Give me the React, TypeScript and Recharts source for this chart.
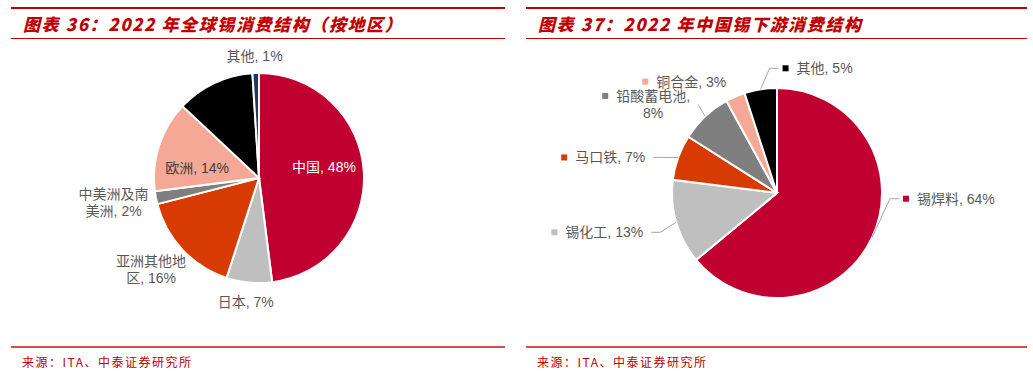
import React from 'react';
import { PieChart, Pie, Cell } from 'recharts';

// 图表36：全球锡消费（按地区）
const regionNames = ['中国', '日本', '亚洲其他地区', '中美洲及南美洲', '欧洲', '北美', '其他'];
const regionShares = [48, 7, 16, 2, 14, 12, 1];

// 图表37：中国锡下游消费
const useNames = ['锡焊料', '锡化工', '马口铁', '铅酸蓄电池', '铜合金', '其他'];
const useShares = [64, 13, 7, 8, 3, 5];

const titleLeft = '图表 36：2022 年全球锡消费结构（按地区）';
const titleRight = '图表 37：2022 年中国锡下游消费结构';
const sourceText = '来源：ITA、中泰证券研究所';

const regionColors = ['#C00030', '#BFBFBF', '#D83B01', '#7F7F7F', '#F5A895', '#000000', '#203864'];
const useColors = ['#C00030', '#BFBFBF', '#D83B01', '#7F7F7F', '#F5A895', '#000000'];

// 左图标签：in = 扇区内，out = 扇区外，none = 不显示；以及竖直微调
const regionLabelMode = ['in-light', 'out', 'out', 'out', 'in-dark', 'none', 'out'];
const regionLabelShiftY = [-7, 3, 3, 0, 10, 0, 0];
// 右图标签相对扇区外缘的偏移 [dx, dy, 是否画引线]
const useLabelNudge: [number, number, boolean][] = [
  [27, -39, true],
  [-25, 10, true],
  [-25, 0, true],
  [-7, -12, true],
  [-1, -15, false],
  [18, -21, true],
];

const RAD = Math.PI / 180;
const FONT = "'Liberation Sans', Arial, 'Noto Sans CJK SC', sans-serif";
const CJK = "'Noto Sans CJK SC', sans-serif";
const FS = 14;
const LH = 17;
const RED = '#C00000';
const GREY_TEXT = '#595959';
const NO_MARGIN = { top: 0, right: 0, bottom: 0, left: 0 };

function textWidth(s: string) {
  let w = 0;
  for (const ch of s) {
    if (/[\u3000-\u9fff\uff00-\uffef]/.test(ch)) w += 1;
    else if (ch === '%') w += 0.889;
    else if (/[0-9]/.test(ch)) w += 0.556;
    else if (ch === ',' || ch === ' ') w += 0.278;
    else w += 0.6;
  }
  return w * FS;
}

function wrapLabel(name: string, value: number): string[] {
  const pct = `${value}%`;
  if (name.length < 5) return [`${name}, ${pct}`];
  if (name.length === 5) return [`${name},`, pct];
  return [name.slice(0, 5), `${name.slice(5)}, ${pct}`];
}

function Lines({ lines, x, cy, fill }: { lines: string[]; x: number; cy: number; fill: string }) {
  const top = cy - ((lines.length - 1) * LH) / 2;
  return (
    <text textAnchor="middle" fill={fill} fontSize={FS} fontFamily={FONT}>
      {lines.map((l, i) => (
        <tspan key={i} x={x} y={top + i * LH + FS * 0.35}>
          {l}
        </tspan>
      ))}
    </text>
  );
}

const renderRegionLabel = (props: any) => {
  const { cx, cy, midAngle, outerRadius, index } = props;
  const mode = regionLabelMode[index];
  if (mode === 'none') return null;
  const dx = Math.cos(-midAngle * RAD);
  const dy = Math.sin(-midAngle * RAD);
  const lines = wrapLabel(regionNames[index], regionShares[index]);
  let x: number;
  let y: number;
  if (mode.startsWith('in')) {
    x = cx + dx * outerRadius * 0.62;
    y = cy + dy * outerRadius * 0.62;
  } else {
    const w = Math.max(...lines.map(textWidth));
    const h = lines.length * LH;
    const r = outerRadius + 8;
    x = cx + dx * r + (dx * w) / 2;
    y = cy + dy * r + (dy * h) / 2;
  }
  y += regionLabelShiftY[index];
  const fill = mode === 'in-light' ? '#FFFFFF' : mode === 'in-dark' ? '#404040' : GREY_TEXT;
  return <Lines key={`rl-${index}`} lines={lines} x={x} cy={y} fill={fill} />;
};

const renderUseLabel = (props: any) => {
  const { cx, cy, midAngle, outerRadius, index } = props;
  const dx = Math.cos(-midAngle * RAD);
  const dy = Math.sin(-midAngle * RAD);
  const ex = cx + dx * outerRadius;
  const ey = cy + dy * outerRadius;
  const [nx, ny, leader] = useLabelNudge[index];
  const lx = ex + nx;
  const ly = ey + ny;
  const side = lx >= cx ? 1 : -1;
  const lines = wrapLabel(useNames[index], useShares[index]);
  const tw = Math.max(...lines.map(textWidth));
  let squareX: number;
  let textCenter: number;
  if (side > 0) {
    squareX = lx + 4;
    textCenter = squareX + 6 + 8 + tw / 2;
  } else {
    const right = lx - 8;
    textCenter = right - tw / 2;
    squareX = right - tw - 8 - 6;
  }
  const firstLineY = ly - ((lines.length - 1) * LH) / 2;
  const pts: string[] = [`${ex},${ey}`];
  if (Math.abs(lx - ex) > 9) pts.push(`${lx - side * 9},${ly}`);
  pts.push(`${lx},${ly}`);
  return (
    <g key={`ul-${index}`}>
      {leader && <polyline points={pts.join(' ')} fill="none" stroke="#A6A6A6" strokeWidth={1} />}
      <rect x={squareX} y={firstLineY - 3} width={6} height={6} fill={useColors[index]} />
      <Lines lines={lines} x={textCenter} cy={ly} fill={GREY_TEXT} />
    </g>
  );
};

const regionData = regionNames.map((name, i) => ({ name, value: regionShares[i] }));
const useData = useNames.map((name, i) => ({ name, value: useShares[i] }));

function Frame({ left, width, title }: { left: number; width: number; title: string }) {
  return (
    <>
      <div style={{ position: 'absolute', left, top: 7, width, height: 2, background: RED }} />
      <div
        style={{
          position: 'absolute',
          left: left + 12,
          top: 14,
          fontFamily: CJK,
          fontSize: 17,
          lineHeight: '20px',
          fontWeight: 900,
          fontStyle: 'italic',
          letterSpacing: 1.6,
          color: RED,
          whiteSpace: 'nowrap',
        }}
      >
        {title}
      </div>
      <div style={{ position: 'absolute', left, top: 38, width, height: 1, background: RED }} />
      <div style={{ position: 'absolute', left, top: 346, width, height: 2, background: '#D05050' }} />
      <div
        style={{
          position: 'absolute',
          left: left + 11,
          top: 354,
          fontFamily: CJK,
          fontSize: 12,
          lineHeight: '16px',
          letterSpacing: 1.5,
          color: RED,
          whiteSpace: 'nowrap',
        }}
      >
        {sourceText}
      </div>
    </>
  );
}

export default function App() {
  return (
    <div style={{ position: 'absolute', left: 0, top: 0, width: 1033, height: 371, background: '#fff', overflow: 'hidden' }}>
      <Frame left={11} width={494} title={titleLeft} />
      <Frame left={526} width={501} title={titleRight} />
      <div style={{ position: 'absolute', left: 0, top: 0 }}>
        <PieChart width={516} height={371} margin={NO_MARGIN}>
          <Pie
            data={regionData}
            dataKey="value"
            nameKey="name"
            cx={259}
            cy={178}
            outerRadius={105}
            startAngle={90}
            endAngle={-270}
            stroke="#FFFFFF"
            strokeWidth={2}
            label={renderRegionLabel}
            labelLine={false}
            isAnimationActive={false}
          >
            {regionData.map((d, i) => (
              <Cell key={d.name} fill={regionColors[i]} />
            ))}
          </Pie>
        </PieChart>
      </div>
      <div style={{ position: 'absolute', left: 516, top: 0 }}>
        <PieChart width={517} height={371} margin={NO_MARGIN}>
          <Pie
            data={useData}
            dataKey="value"
            nameKey="name"
            cx={261}
            cy={193}
            outerRadius={105}
            startAngle={90}
            endAngle={-270}
            stroke="#FFFFFF"
            strokeWidth={2}
            label={renderUseLabel}
            labelLine={false}
            isAnimationActive={false}
          >
            {useData.map((d, i) => (
              <Cell key={d.name} fill={useColors[i]} />
            ))}
          </Pie>
        </PieChart>
      </div>
    </div>
  );
}
